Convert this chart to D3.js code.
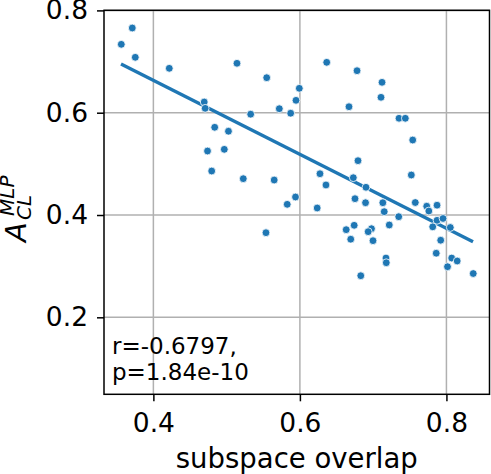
<!DOCTYPE html>
<html lang="en">

<head>
	<meta charset="utf-8" />
	<title>Subspace overlap vs accuracy</title>
	<style>
		body {
			margin: 0;
			padding: 0;
			background: #fff;
		}
		svg text {
			font-family: 'DejaVu Sans', sans-serif;
			fill: #000;
		}
	</style>
	<script src="https://d3js.org/d3.v7.min.js"></script>
</head>

<body>
	<div id="chart"></div>

	<script>
	// values
	const overlap = [
		0.3562, 0.3712, 0.3753, 0.4217, 0.5141, 0.5547, 0.5992, 0.5947, 0.4694, 0.4707,
		0.5719, 0.5874, 0.5328, 0.4837, 0.5025, 0.4739, 0.4968, 0.4796, 0.5227, 0.5649,
		0.5940, 0.6366, 0.6780, 0.7121, 0.7107, 0.6670, 0.7353, 0.7439, 0.7540, 0.6793,
		0.6274, 0.6729, 0.6356, 0.6902, 0.7521, 0.6752, 0.5827, 0.6236, 0.6896, 0.7132,
		0.7151, 0.7349, 0.7575, 0.7731, 0.7760, 0.7872, 0.7872, 0.7954, 0.7813, 0.8053,
		0.7922, 0.7861, 0.8072, 0.8147, 0.8015, 0.8366, 0.6632, 0.6741, 0.6694, 0.6977,
		0.6932, 0.6998, 0.7220, 0.7175, 0.7179, 0.6831, 0.5537
	];
	const accuracy = [
		0.7337, 0.7656, 0.7083, 0.6868, 0.6966, 0.6684, 0.6477, 0.6242, 0.6209, 0.6086,
		0.6078, 0.5990, 0.5971, 0.5715, 0.5638, 0.5251, 0.5284, 0.4860, 0.4710, 0.4684,
		0.4352, 0.6985, 0.6821, 0.6594, 0.6301, 0.6117, 0.5891, 0.5891, 0.5466, 0.5062,
		0.4807, 0.4729, 0.4587, 0.4542, 0.4782, 0.4319, 0.4209, 0.4137, 0.4240, 0.4240,
		0.4065, 0.3967, 0.4244, 0.4172, 0.4078, 0.4192, 0.3896, 0.3932, 0.3769, 0.3756,
		0.3507, 0.3253, 0.3159, 0.3101, 0.2989, 0.2856, 0.3713, 0.3799, 0.3527, 0.3732,
		0.3674, 0.3498, 0.3805, 0.3159, 0.3067, 0.2813, 0.3654
	];
	const fitX = [0.3558, 0.8363];
	const fitY = [0.6952, 0.3478];
	const xTicks = [0.4, 0.6, 0.8];
	const yTicks = [0.2, 0.4, 0.6, 0.8];
	const statLines = ["r=-0.6797,", "p=1.84e-10"];

	const blue = "#1f77b4";
	const pLeft = 104, pRight = 489.5, pTop = 10.3, pBottom = 394.3;

	const x = d3.scaleLinear().domain([0.3326, 0.8588]).range([pLeft, pRight]);
	const y = d3.scaleLinear().domain([0.0495, 0.8002]).range([pBottom, pTop]);

	const svg = d3.select("#chart")
		.append("svg")
		.attr("width", 491)
		.attr("height", 474);

	// grid
	svg.append("g")
		.selectAll("line")
		.data(xTicks)
		.enter()
		.append("line")
		.attr("x1", d => x(d)).attr("x2", d => x(d))
		.attr("y1", pTop).attr("y2", pBottom)
		.style("stroke", "#b0b0b0")
		.style("stroke-width", 1.5);
	svg.append("g")
		.selectAll("line")
		.data(yTicks)
		.enter()
		.append("line")
		.attr("x1", pLeft).attr("x2", pRight)
		.attr("y1", d => y(d)).attr("y2", d => y(d))
		.style("stroke", "#b0b0b0")
		.style("stroke-width", 1.5);

	// axes
	const xAxis = svg.append("g")
		.attr("transform", "translate(0," + pBottom + ")")
		.call(d3.axisBottom(x).tickValues(xTicks).tickFormat(d3.format(".1f")).tickSize(7).tickPadding(12));
	const yAxis = svg.append("g")
		.attr("transform", "translate(" + pLeft + ",0)")
		.call(d3.axisLeft(y).tickValues(yTicks).tickFormat(d3.format(".1f")).tickSize(7).tickPadding(9));
	[xAxis, yAxis].forEach(a => {
		a.select(".domain").remove();
		a.selectAll(".tick line").style("stroke", "#000").style("stroke-width", 1.5);
		a.selectAll(".tick text").style("font-size", "26.5px").style("font-family", "'DejaVu Sans', sans-serif");
	});

	// regression line
	svg.append("line")
		.attr("x1", x(fitX[0])).attr("y1", y(fitY[0]))
		.attr("x2", x(fitX[1])).attr("y2", y(fitY[1]))
		.style("stroke", blue)
		.style("stroke-width", 3.4);

	// points
	svg.append("g")
		.selectAll("circle")
		.data(overlap)
		.enter()
		.append("circle")
		.attr("cx", d => x(d))
		.attr("cy", (d, i) => y(accuracy[i]))
		.attr("r", 3.9)
		.style("fill", blue)
		.style("stroke", "#fff")
		.style("stroke-width", 0.8);

	// frame
	svg.append("rect")
		.attr("x", pLeft).attr("y", pTop)
		.attr("width", pRight - pLeft).attr("height", pBottom - pTop)
		.style("fill", "none")
		.style("stroke", "#000")
		.style("stroke-width", 1.5);

	// stats text
	svg.append("g")
		.selectAll("text")
		.data(statLines)
		.enter()
		.append("text")
		.attr("x", 112)
		.attr("y", (d, i) => 354 + i * 26)
		.style("font-size", "23px")
		.text(d => d);

	// axis labels
	svg.append("text")
		.attr("x", (pLeft + pRight) / 2)
		.attr("y", 468)
		.attr("text-anchor", "middle")
		.style("font-size", "27.5px")
		.text("subspace overlap");

	const ylab = svg.append("g")
		.attr("transform", "translate(26,242) rotate(-90)");
	ylab.append("text")
		.style("font-size", "29px")
		.style("font-style", "italic")
		.text("A");
	ylab.append("text")
		.attr("x", 22).attr("y", 5)
		.style("font-size", "20px")
		.style("font-style", "italic")
		.text("CL");
	ylab.append("text")
		.attr("x", 26).attr("y", -12)
		.style("font-size", "20px")
		.style("font-style", "italic")
		.text("MLP");
	</script>
</body>

</html>
